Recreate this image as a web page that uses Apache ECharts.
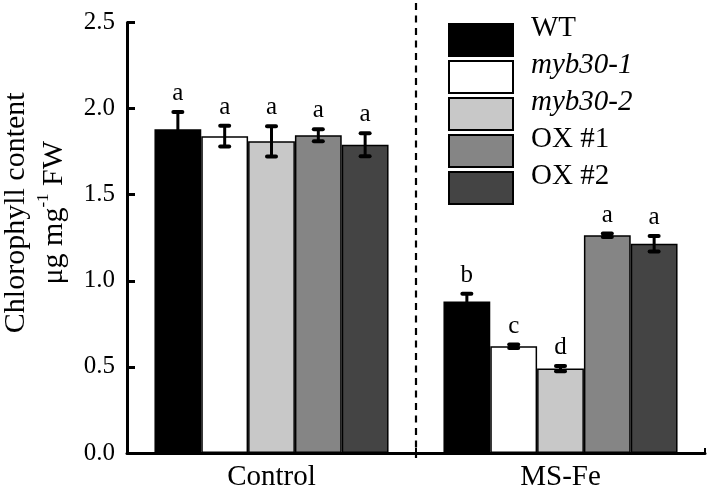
<!DOCTYPE html>
<html>
<head>
<meta charset="utf-8">
<script src="https://cdn.jsdelivr.net/npm/echarts@6/dist/echarts.min.js"></script>
<style>
html, body { margin: 0; padding: 0; background: #fff; }
#chart { width: 707px; height: 489px; }
</style>
</head>
<body>
<div id="chart"></div>
<script>
// groups on the x axis
var categories = ['Control', 'MS-Fe'];
// genotypes (legend order)
var genotypes = ['WT', 'myb30-1', 'myb30-2', 'OX #1', 'OX #2'];
// mean chlorophyll content, [Control, MS-Fe]
var meanWT = [1.88, 0.88];
var meanMyb1 = [1.84, 0.62];
var meanMyb2 = [1.81, 0.49];
var meanOx1 = [1.845, 1.265];
var meanOx2 = [1.79, 1.215];
// error (half length of error bar)
var errWT = [0.10, 0.045];
var errMyb1 = [0.06, 0.01];
var errMyb2 = [0.088, 0.015];
var errOx1 = [0.035, 0.01];
var errOx2 = [0.067, 0.045];
// significance letters
var letWT = ['a', 'b'];
var letMyb1 = ['a', 'c'];
var letMyb2 = ['a', 'd'];
var letOx1 = ['a', 'a'];
var letOx2 = ['a', 'a'];
// y axis ticks
var yMin = 0, yMax = 2.5, yStep = 0.5;

var means = [meanWT, meanMyb1, meanMyb2, meanOx1, meanOx2];
var errs = [errWT, errMyb1, errMyb2, errOx1, errOx2];
var letters = [letWT, letMyb1, letMyb2, letOx1, letOx2];
var fills = ['#000000', '#ffffff', '#c8c8c8', '#858585', '#444444'];
var serif = '"Liberation Serif", "Times New Roman", serif';
var gapPct = 19;

var chart = echarts.init(document.getElementById('chart'));

var series = [];
genotypes.forEach(function (g, i) {
    series.push({
        name: g,
        type: 'bar',
        data: means[i],
        barGap: 0,
        barCategoryGap: gapPct + '%',
        itemStyle: { color: fills[i], borderColor: '#000', borderWidth: 1.5 },
        silent: true
    });
});

// error bars + letters
var errData = [];
genotypes.forEach(function (g, i) {
    categories.forEach(function (c, j) {
        errData.push([j, means[i][j], errs[i][j], i]);
    });
});
series.push({
    type: 'custom',
    data: errData,
    z: 5,
    silent: true,
    renderItem: function (params, api) {
        var c = api.value(0), m = api.value(1), e = api.value(2), g = api.value(3);
        var band = api.size([1, 0])[0];
        var bw = band * (1 - gapPct / 100) / genotypes.length;
        var x = api.coord([c, 0])[0] + (g - (genotypes.length - 1) / 2) * bw;
        var yTop = api.coord([c, m + e])[1];
        var yBot = api.coord([c, m - e])[1];
        return {
            type: 'group',
            children: [
                { type: 'line', shape: { x1: x, y1: yTop, x2: x, y2: yBot }, style: { stroke: '#000', lineWidth: 3 } },
                { type: 'line', shape: { x1: x - 4.5, y1: yTop, x2: x + 4.5, y2: yTop }, style: { stroke: '#000', lineWidth: 4, lineCap: 'round' } },
                { type: 'line', shape: { x1: x - 4.5, y1: yBot, x2: x + 4.5, y2: yBot }, style: { stroke: '#000', lineWidth: 4, lineCap: 'round' } },
                { type: 'text', style: { text: letters[g][c], x: x, y: yTop - 6, align: 'center', verticalAlign: 'bottom', font: '25px ' + serif, fill: '#000' } }
            ]
        };
    }
});

// dashed divider between groups
series.push({
    type: 'custom',
    data: [[0]],
    silent: true,
    z: 6,
    renderItem: function (params, api) {
        var p0 = api.coord([0, 0]);
        var p1 = api.coord([1, 0]);
        var x = (p0[0] + p1[0]) / 2;
        return {
            type: 'line',
            shape: { x1: x, y1: 3, x2: x, y2: p0[1] + 5 },
            style: { stroke: '#000', lineWidth: 2.2, lineDash: [7, 5.5] }
        };
    }
});

var legendData = genotypes.map(function (g) {
    return g.indexOf('myb') === 0 ? { name: g, textStyle: { fontStyle: 'italic' } } : { name: g };
});
var legendBase = {
    orient: 'vertical',
    left: 448,
    padding: 0,
    itemWidth: 64,
    itemHeight: 32,
    itemGap: 3,
    selectedMode: false,
    icon: 'rect',
    data: legendData
};

var option = {
    animation: false,
    backgroundColor: '#fff',
    grid: { left: 127, right: 2, top: 22.5, bottom: 36, containLabel: false, outerBoundsMode: 'none' },
    legend: [
        // boxes
        Object.assign({}, legendBase, {
            top: 23,
            formatter: function () { return ''; },
            textStyle: { fontSize: 10, lineHeight: 32 }
        }),
        // labels, sitting a little higher than the boxes
        Object.assign({}, legendBase, {
            top: 11.5,
            itemStyle: { opacity: 0 },
            textStyle: { fontFamily: serif, fontSize: 29, lineHeight: 32, color: '#000', padding: [0, 0, 0, 13] }
        })
    ],
    xAxis: {
        type: 'category',
        data: categories,
        axisLine: { lineStyle: { color: '#000', width: 3 } },
        axisTick: { show: true, inside: true, length: 5, lineStyle: { color: '#000', width: 2 } },
        axisLabel: { color: '#000', fontFamily: serif, fontSize: 29, margin: 10 },
        splitLine: { show: false }
    },
    yAxis: {
        type: 'value',
        min: yMin,
        max: yMax,
        interval: yStep,
        name: '{t|Chlorophyll content}\n{t|μg mg}{s|-1}{t| FW}',
        nameLocation: 'middle',
        nameRotate: 90,
        nameGap: 44,
        nameTextStyle: {
            color: '#000',
            fontFamily: serif,
            fontSize: 30,
            lineHeight: 38,
            padding: [0, 0, 0, 50],
            rich: {
                t: { fontFamily: serif, fontSize: 30, lineHeight: 38, color: '#000' },
                s: { fontFamily: serif, fontSize: 17, lineHeight: 22, verticalAlign: 'top', color: '#000' }
            }
        },
        axisLine: { show: true, lineStyle: { color: '#000', width: 3 } },
        axisTick: { show: true, inside: true, length: 8, lineStyle: { color: '#000', width: 3 } },
        axisLabel: {
            color: '#000', fontFamily: serif, fontSize: 25, margin: 12,
            formatter: function (v) { return v.toFixed(1); }
        },
        splitLine: { show: false }
    },
    series: series
};
chart.setOption(option);
</script>
</body>
</html>
